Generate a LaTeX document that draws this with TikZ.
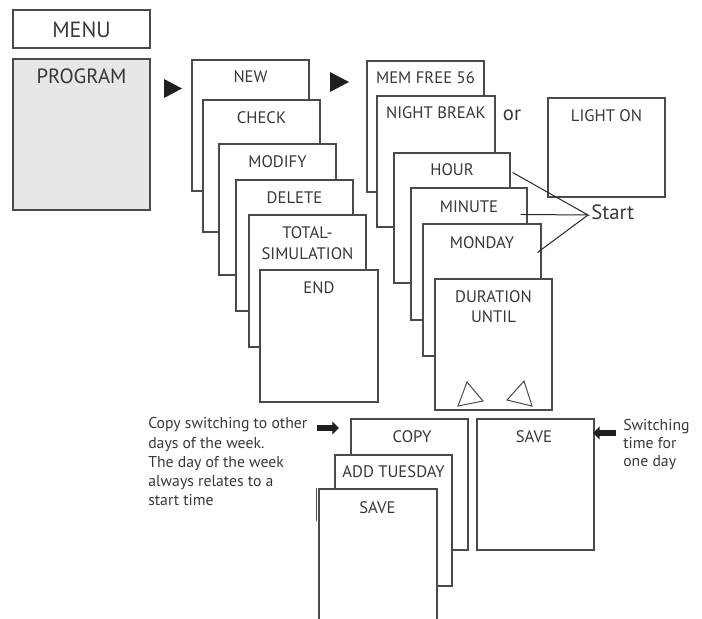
\documentclass[tikz,border=0pt]{standalone}
\usepackage{fontspec}
\setmainfont{PT Sans}
\usetikzlibrary{fit,arrows.meta}
\definecolor{ink}{HTML}{383838}
\definecolor{edge}{HTML}{4A4A4A}
\definecolor{panel}{HTML}{E6E7E9}
\begin{document}
\begin{tikzpicture}[x=0.75pt,y=-0.75pt,
  box/.style={draw=edge, line width=0.8pt, fill=white, inner sep=0pt, rectangle},
  lbl/.style={text=ink, font=\fontsize{12.5}{15}\selectfont, anchor=base, inner sep=0pt},
  biglbl/.style={text=ink, font=\fontsize{15.5}{18}\selectfont, anchor=base, inner sep=0pt},
  note/.style={text=ink, font=\fontsize{11.8}{14.4}\selectfont, align=left, anchor=north west, inner sep=0pt},
  pointer/.style={fill=black!88},
  startline/.style={draw=black!85, line width=0.75pt},
  bigarrow/.style={draw=black!88, line width=3.8pt, -{Triangle[length=5pt,width=9.5pt]}},
  tri/.style={draw=edge, line width=0.75pt}]
\useasboundingbox (0,0) rectangle (702,618);
\clip (0,0) rectangle (702,618);

% menu column
\node[box, fit={(13,10)(150,48)}] (menu) {};
\node[biglbl, font=\fontsize{16.5}{19}\selectfont] (menut) at (81.5,37) {MENU};
\node[box, fill=panel, fit={(13,59)(150,210)}] (prog) {};
\node[biglbl] (progt) at (81.5,83) {PROGRAM};

\fill[pointer] (164,79) -- (164,98) -- (182,88.5) -- cycle;

% first stack
\node[box, fit={(192,60)(309,191)}] (new) {};
\node[lbl] (newt) at (250.5,82) {NEW};
\node[box, fit={(203,100)(320,232)}] (check) {};
\node[lbl] (checkt) at (261.5,123) {CHECK};
\node[box, fit={(219,144)(336,275)}] (modify) {};
\node[lbl] (modifyt) at (277.5,167) {MODIFY};
\node[box, fit={(236,180)(353,311)}] (delete) {};
\node[lbl] (deletet) at (294.5,203) {DELETE};
\node[box, fit={(249,215)(366,347)}] (total) {};
\node[lbl] (totalt1) at (307.5,238) {TOTAL-};
\node[lbl] (totalt2) at (307.5,259) {SIMULATION};
\node[box, fit={(260,270)(378,402)}] (end) {};
\node[lbl] (endt) at (319,293) {END};

\fill[pointer] (330,72) -- (330,92) -- (349,82) -- cycle;

% second stack
\node[box, fit={(367,61)(484,192)}] (mem) {};
\node[lbl] (memt) at (425.5,83) {MEM FREE 56};
\node[box, fit={(377,96)(495,227)}] (night) {};
\node[lbl] (nightt) at (436,118) {NIGHT BREAK};
\node[biglbl] (ort) at (512,120) {or};
\node[box, fit={(548,98)(665,197)}] (light) {};
\node[lbl] (lightt) at (606.5,121) {LIGHT ON};
\node[box, fit={(394,153)(510,283)}] (hour) {};
\node[lbl] (hourt) at (452,175) {HOUR};
\node[box, fit={(411,188)(527,320)}] (minute) {};
\node[lbl] (minutet) at (469,212) {MINUTE};
\node[box, fit={(423,224)(541,356)}] (monday) {};
\node[lbl] (mondayt) at (482,248) {MONDAY};
\node[box, fit={(435,279)(552,410)}] (dur) {};
\node[lbl] (durt1) at (493.5,302) {DURATION};
\node[lbl] (durt2) at (493.5,322) {UNTIL};
\draw[tri] (467,382) -- (458,406) -- (483,401) -- cycle;
\draw[tri] (524,381) -- (507,400) -- (532,406) -- cycle;

% start
\node[biglbl, anchor=base west] (startt) at (591,219) {Start};
\coordinate (sp) at (588,215);
\coordinate (hp) at ([shift={(2,20)}]hour.north east);
\coordinate (mp) at ([shift={(-7,27)}]minute.north east);
\coordinate (dp) at ([shift={(-4,29)}]monday.north east);
\draw[startline] (hp) -- (sp) -- (mp);
\draw[startline] (sp) -- (dp);

% bottom
\node[box, fit={(351,419)(468,550)}] (copy) {};
\node[lbl] (copyt) at (412,442) {COPY};
\node[box, fit={(335,455)(452,586)}] (add) {};
\node[lbl] (addt) at (393.5,477) {ADD TUESDAY};
\node[box, fit={(319,489)(437,640)}] (save) {};
\node[lbl] (savet) at (377.5,513) {SAVE};
\draw[draw=edge, line width=0.8pt] ([xshift=-1.5pt]save.north west) -- ++(0,33);
\node[box, fit={(477,419)(594,550)}] (saver) {};
\node[lbl] (savert) at (534,442) {SAVE};

\node[note] (copynote) at (148,417.5) {Copy switching to other\\days of the week.\\The day of the week\\always relates to a\\start time};
\coordinate (ca) at (317,428);
\coordinate (cb) at (339,428);
\draw[bigarrow] (ca) -- (cb);

\node[note, font=\fontsize{11.8}{13.5}\selectfont] (swnote) at (623,419.5) {Switching\\time for\\one day};
\coordinate (sa) at (616,433);
\coordinate (sb) at (593,433);
\draw[bigarrow] (sa) -- (sb);
\end{tikzpicture}
\end{document}
